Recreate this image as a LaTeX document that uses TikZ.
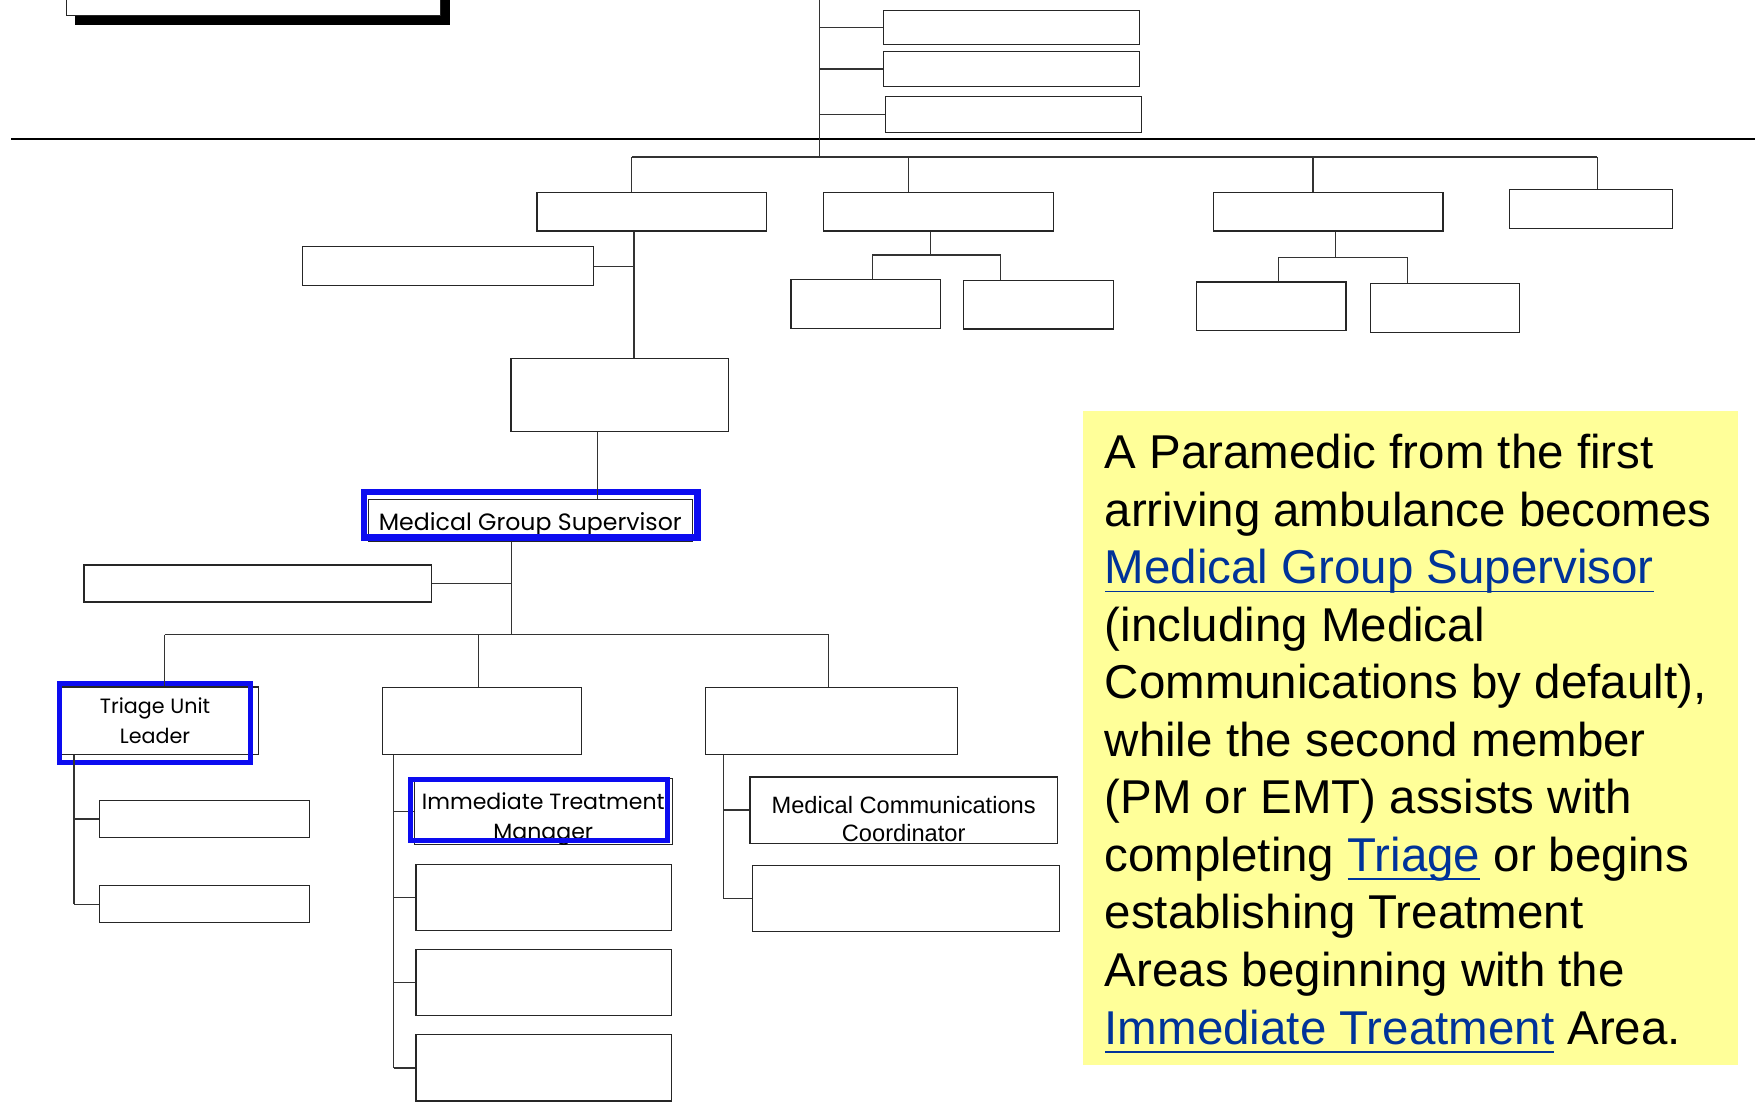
\documentclass[tikz,border=0pt]{standalone}
\usepackage{fontspec}
\setmainfont{Liberation Sans}
\newfontfamily\chartfont{Poppins}
\usetikzlibrary{shadows}
\definecolor{notefill}{RGB}{255,255,153}
\definecolor{linkblue}{RGB}{0,51,153}
\definecolor{markblue}{RGB}{12,12,240}
\newsavebox{\linkbox}
\newcommand{\link}[1]{{\color{linkblue}\sbox{\linkbox}{#1}\rlap{\rule[-0.18em]{\wd\linkbox}{0.9pt}}\usebox{\linkbox}}}
\tikzset{
  box/.style={draw=black!85, line width=0.6pt, fill=white, inner sep=0pt},
  bw/.style={minimum width=#1*0.2mm},
  bh/.style={minimum height=#1*0.2mm},
  lbl/.style={inner sep=0pt, align=center, font=\chartfont\fontsize{#1}{15pt}\selectfont},
  lbl/.default=10.5pt,
  wire/.style={draw=black!80, line width=0.6pt},
  hilite/.style={draw=markblue, line width=#1},
  hilite/.default=1mm
}
\begin{document}
\begin{tikzpicture}[x=0.2mm, y=-0.2mm, line join=miter]
	\useasboundingbox (0,0) rectangle (1568,984);
	% top of the chart
	\node[box, bw=334, bh=64, drop shadow={shadow xshift=1.6mm, shadow yshift=-1.6mm, fill=black, opacity=1}] (chief) at (226,-18) {};
	\node[box, bw=228, bh=31] (stA) at (902,24.5) {};
	\node[box, bw=228, bh=31] (stB) at (902,61.5) {};
	\node[box, bw=228, bh=32] (stC) at (904,102) {};
	\draw[line width=1.4pt] (10,124) -- (1565,124);
	% sections
	\node[box, bw=205, bh=34] (ops) at (581.5,189) {};
	\node[box, bw=205, bh=34] (plan) at (837,189) {};
	\node[box, bw=205, bh=34] (logi) at (1184.5,189) {};
	\node[box, bw=146, bh=35] (fin) at (1419,186.5) {};
	\node[box, bw=133, bh=44] (planA) at (772,271) {};
	\node[box, bw=134, bh=43] (planB) at (926,272) {};
	\node[box, bw=133, bh=43] (logiA) at (1134,273) {};
	\node[box, bw=133, bh=44] (logiB) at (1288.5,274.5) {};
	\node[box, bw=259, bh=35] (staging) at (399.5,237.5) {};
	\node[box, bw=194, bh=65] (branch) at (552.7,352.5) {};
	% medical group
	\node[box, bw=289, bh=38] (mgs) at (473,464.2) {};
	\node[box, bw=310, bh=33] (medsup) at (230,520.5) {};
	\node[box, bw=176, bh=60] (triage) at (142.3,642.8) {};
	\node[box, bw=187, bh=33] (trA) at (182.5,730.5) {};
	\node[box, bw=187, bh=33] (trB) at (182.5,806.5) {};
	\node[box, bw=178, bh=60] (treat) at (430,643) {};
	\node[box, bw=230, bh=59] (imm) at (484.6,723.6) {};
	\node[box, bw=228, bh=59] (dly) at (485,800.5) {};
	\node[box, bw=228, bh=59] (mnr) at (485,876.5) {};
	\node[box, bw=228, bh=59] (morg) at (485,952.5) {};
	\node[box, bw=225, bh=60] (trans) at (741.5,643) {};
	\node[box, bw=274, bh=59] (comms) at (806,722.5) {};
	\node[box, bw=274, bh=59] (transB) at (808,801.5) {};
	% labels
	\node[lbl=12pt] (mgsL) at ([yshift=-0.8mm]mgs.center) {Medical Group Supervisor};
	\node[lbl] (triageL) at ([xshift=-0.8mm]triage.center) {Triage Unit\\Leader};
	\node[lbl=11.2pt] (immL) at ([yshift=-1.4mm]imm.center) {Immediate Treatment\\Manager};
	\node[inner sep=0pt, align=center, font=\fontsize{12pt}{14.2pt}\selectfont] (commsL) at ([yshift=-1.6mm]comms.center) {Medical Communications\\Coordinator};
	% junctions
	\coordinate (stem) at (731,-5);
	\coordinate (bus) at (731,140);
	\coordinate (jOps) at (563.5,140);
	\coordinate (jPlan) at (810,140);
	\coordinate (jLogi) at (1171,140);
	\coordinate (jFin) at (1424.5,140);
	\coordinate (opsT) at (565.5,0);
	\coordinate (planJ) at (829.7,227.4);
	\coordinate (planL) at (778,227.4);
	\coordinate (planR) at (892.7,227.4);
	\coordinate (logiJ) at (1191.5,229.5);
	\coordinate (logiL) at (1140.6,229.5);
	\coordinate (logiR) at (1255.6,229.5);
	\coordinate (brT) at (533,0);
	\coordinate (mgsT) at (456,566);
	\coordinate (jTri) at (147,566);
	\coordinate (jTreat) at (427,566);
	\coordinate (jTrans) at (739,566);
	\coordinate (triT) at (66,0);
	\coordinate (trT) at (351,0);
	\coordinate (tsT) at (645,0);
	% lines
	\draw[wire] (stem) -- (bus);
	\draw[wire] (stA.west -| stem) -- (stA.west);
	\draw[wire] (stB.west -| stem) -- (stB.west);
	\draw[wire] (stC.west -| stem) -- (stC.west);
	\draw[wire] (jOps) -- (jFin);
	\draw[wire] (jOps) -- (jOps |- ops.north);
	\draw[wire] (jPlan) -- (jPlan |- plan.north);
	\draw[wire] (jLogi) -- (jLogi |- logi.north);
	\draw[wire] (jFin) -- (jFin |- fin.north);
	\draw[wire] (opsT |- ops.south) -- (opsT |- branch.north);
	\draw[wire] (staging.east) -- (staging.east -| opsT);
	\draw[wire] (planJ |- plan.south) -- (planJ);
	\draw[wire] (planL |- planA.north) -- (planL) -- (planR) -- (planR |- planB.north);
	\draw[wire] (logiJ |- logi.south) -- (logiJ);
	\draw[wire] (logiL |- logiA.north) -- (logiL) -- (logiR) -- (logiR |- logiB.north);
	\draw[wire] (mgsT |- mgs.south) -- (mgsT);
	\draw[wire] (medsup.east) -- (medsup.east -| mgsT);
	\draw[wire] (jTri) -- (jTrans);
	\draw[wire] (jTreat) -- (jTreat |- treat.north);
	\draw[wire] (jTrans) -- (jTrans |- trans.north);
	\draw[wire] (triT |- trB.west) -- (trB.west);
	\draw[wire] (triT |- trA.west) -- (trA.west);
	\draw[wire] (trT |- treat.south) -- (trT |- morg.west);
	\draw[wire] (trT |- imm.west) -- (imm.west);
	\draw[wire] (trT |- dly.west) -- (dly.west);
	\draw[wire] (trT |- mnr.west) -- (mnr.west);
	\draw[wire] (trT |- morg.west) -- (morg.west);
	\draw[wire] (tsT |- trans.south) -- (tsT |- transB.west);
	\draw[wire] (tsT |- comms.west) -- (comms.west);
	\draw[wire] (tsT |- transB.west) -- (transB.west);
	% highlighted roles
	\draw[hilite=1.2mm] (324.7,438.8) rectangle (622.3,479.5);
	\draw[hilite=0.9mm] (52.9,609.3) rectangle (223.6,680);
	\draw[hilite] (366.2,695.1) rectangle (595.5,749.8);
	\draw[wire] (brT |- branch.south) -- (brT |- mgs.north);
	\draw[wire] (jTri) -- (jTri |- triage.north);
	\draw[wire] (triT |- triage.south) -- (triT |- trB.west);
	% note
	\fill[notefill] (966,367) rectangle (1550,950);
	\node[anchor=north west, inner sep=0pt, align=left, font=\fontsize{24.1pt}{29.2pt}\selectfont] (note) at (985,387)
	{A Paramedic from the first\\ arriving ambulance becomes\\ \link{Medical Group Supervisor}\\ (including Medical\\
	 Communications by default),\\ while the second member\\ (PM or EMT) assists with\\ completing \link{Triage} or begins\\
	 establishing Treatment\\ Areas beginning with the\\ \link{Immediate Treatment} Area.};
\end{tikzpicture}
\end{document}
